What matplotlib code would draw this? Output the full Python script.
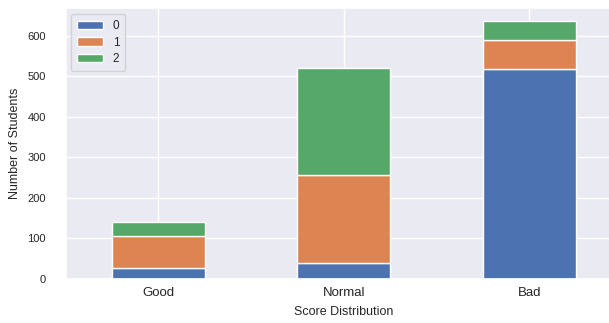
import matplotlib
matplotlib.use("Agg")
import matplotlib.pyplot as plt
import numpy as np
import seaborn as sns

categories = ["Good", "Normal", "Bad"]
series_names = ["0", "1", "2"]
values_0 = [26, 40, 518]
values_1 = [79, 217, 72]
values_2 = [35, 263, 46]

sns.set_theme(style="darkgrid")
plt.rcParams["font.family"] = ["Liberation Sans", "DejaVu Sans"]

colors = ["#4C72B0", "#DD8452", "#55A868"]

fig = plt.figure(figsize=(6.09, 3.23), dpi=100)
ax = fig.add_axes([0.1076, 0.137, 0.914, 0.838])

x = np.arange(len(categories))
bottoms = np.zeros(len(categories))
for name, vals, color in zip(series_names, [values_0, values_1, values_2], colors):
    vals = np.array(vals, dtype=float)
    ax.bar(x, vals, 0.5, bottom=bottoms, color=color, edgecolor="white",
           linewidth=1.0, label=name)
    bottoms = bottoms + vals

ax.set_xlim(-0.5, 2.5)
ax.set_ylim(0, bottoms.max() * 1.05)
ax.set_xticks(x)
ax.set_xticklabels(categories, fontsize=9.5)
ax.tick_params(axis="y", labelsize=8, pad=8)
ax.tick_params(axis="x", pad=0)
ax.set_xlabel("Score Distribution", fontsize=9, labelpad=5)
ax.set_ylabel("Number of Students", fontsize=9, labelpad=5)
ax.legend(loc="upper left", fontsize=8.5, handlelength=2.2, borderpad=0.5,
          labelspacing=0.4)

fig.savefig("out.png", dpi=100)
